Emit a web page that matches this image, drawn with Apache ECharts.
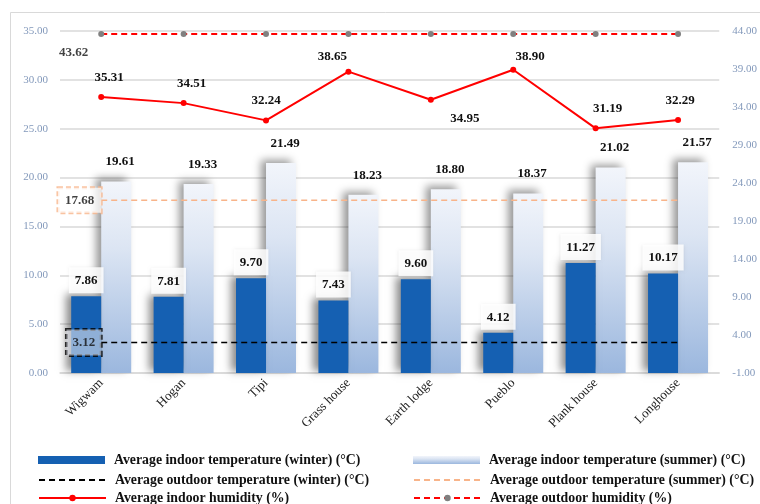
<!DOCTYPE html>
<html><head><meta charset="utf-8">
<script src="https://cdn.jsdelivr.net/npm/echarts@6/dist/echarts.min.js"></script>
<style>html,body{margin:0;padding:0;background:#fff}#c{width:760px;height:504px}</style>
</head><body><div id="c"></div>
<script>
const categories = ['Wigwam','Hogan','Tipi','Grass house','Earth lodge','Pueblo','Plank house','Longhouse'];
const winterIndoor = [7.86, 7.81, 9.70, 7.43, 9.60, 4.12, 11.27, 10.17];
const summerIndoor = [19.61, 19.33, 21.49, 18.23, 18.80, 18.37, 21.02, 21.57];
const winterOutdoor = [3.12, 3.12, 3.12, 3.12, 3.12, 3.12, 3.12, 3.12];
const summerOutdoor = [17.68, 17.68, 17.68, 17.68, 17.68, 17.68, 17.68, 17.68];
const indoorHumidity = [35.31, 34.51, 32.24, 38.65, 34.95, 38.90, 31.19, 32.29];
const outdoorHumidity = [43.62, 43.62, 43.62, 43.62, 43.62, 43.62, 43.62, 43.62];
const leftTicks = {min: 0, max: 35, interval: 5};
const rightTicks = {min: -1, max: 44, interval: 5};

const names = {
  wi: 'Average indoor temperature (winter) (°C)',
  wo: 'Average outdoor temperature (winter) (°C)',
  ih: 'Average indoor humidity (%)',
  si: 'Average indoor temperature (summer) (°C)',
  so: 'Average outdoor temperature (summer) (°C)',
  oh: 'Average outdoor humidity (%)'
};
const serif = '"Liberation Serif", "DejaVu Serif", serif';
const humOffsets = [[8,0],[8,0],[0,0],[-16,4],[34,38],[17,6],[12,0],[2,0]];

const chart = echarts.init(document.getElementById('c'), null, {renderer: 'canvas'});
const numFmt = p => Number(p.value).toFixed(2);

const legendText = {fontFamily: serif, fontWeight: 'bold', fontSize: 13.8, color: '#111', lineHeight: 14, padding: [0,0,0,4]};
function mkLegend(name, left, top, icon) {
  const l = {left: left, top: top, padding: 0, orient: 'horizontal', itemWidth: 67, itemHeight: 8,
    data: [name], textStyle: legendText};
  if (icon) l.icon = icon;
  return l;
}

chart.setOption({
  animation: false,
  backgroundColor: '#fff',
  graphic: [{type: 'rect', shape: {x: 10.5, y: 12.5, width: 760, height: 520}, style: {fill: 'none', stroke: '#d9d9d9', lineWidth: 1}, silent: true}],
  grid: {left: 60, right: 40, top: 31, bottom: 131},
  legend: [
    mkLegend(names.wi, 38, 453, 'rect'), mkLegend(names.wo, 38, 473), mkLegend(names.ih, 38, 491),
    mkLegend(names.si, 413, 453, 'rect'), mkLegend(names.so, 413, 473), mkLegend(names.oh, 413, 491)
  ],
  xAxis: {
    type: 'category', data: categories, boundaryGap: true,
    axisLine: {show: true, lineStyle: {color: '#d9d9d9', width: 1.5}},
    axisTick: {show: false},
    axisLabel: {rotate: 45, fontFamily: serif, fontSize: 13, color: '#222', margin: 8, interval: 0}
  },
  yAxis: [
    {type: 'value', min: leftTicks.min, max: leftTicks.max, interval: leftTicks.interval,
     axisLine: {show: false}, axisTick: {show: false},
     splitLine: {lineStyle: {color: '#d9d9d9', width: 1.5}},
     axisLabel: {formatter: v => v.toFixed(2), fontFamily: serif, fontSize: 11, color: '#8399bb', margin: 12}},
    {type: 'value', min: rightTicks.min, max: rightTicks.max, interval: rightTicks.interval,
     axisLine: {show: false}, axisTick: {show: false}, splitLine: {show: false},
     axisLabel: {formatter: v => v.toFixed(2), fontFamily: serif, fontSize: 11, color: '#8399bb', margin: 13}}
  ],
  series: [
    {name: names.wi, type: 'bar', yAxisIndex: 0, data: winterIndoor, barWidth: 30, barGap: '0%', z: 3,
     itemStyle: {color: '#1560b2', shadowColor: 'rgba(0,0,0,0.45)', shadowBlur: 8, shadowOffsetX: -5, shadowOffsetY: -2},
     label: {show: true, position: 'top', distance: 3, formatter: numFmt, fontFamily: serif, fontWeight: 'bold', fontSize: 13, color: '#111',
       backgroundColor: 'rgba(255,255,255,0.85)', padding: [7, 6, 6, 6], shadowColor: 'rgba(0,0,0,0.1)', shadowBlur: 3}},
    {name: names.si, type: 'bar', yAxisIndex: 0, data: summerIndoor, barWidth: 30, barGap: '0%', z: 2,
     itemStyle: {color: new echarts.graphic.LinearGradient(0, 0, 0, 1, [{offset: 0, color: '#f2f5fb'}, {offset: 0.35, color: '#dce5f3'}, {offset: 1, color: '#9bb7de'}]),
       shadowColor: 'rgba(0,0,0,0.4)', shadowBlur: 8, shadowOffsetX: -5, shadowOffsetY: -3},
     label: {show: true, position: 'top', distance: 13, offset: [4, 0], formatter: numFmt, fontFamily: serif, fontWeight: 'bold', fontSize: 13, color: '#111'}},
    {name: names.wo, type: 'line', yAxisIndex: 0, data: winterOutdoor, symbol: 'none', z: 5,
     itemStyle: {color: 'rgba(0,0,0,0)'},
     lineStyle: {color: '#000', width: 1.5, type: [6, 4]}},
    {name: names.so, type: 'line', yAxisIndex: 0, data: summerOutdoor, symbol: 'none', z: 5,
     itemStyle: {color: 'rgba(0,0,0,0)'},
     lineStyle: {color: '#f8b48a', width: 1.5, type: [6, 4]}},
    {name: names.ih, type: 'line', yAxisIndex: 1, data: indoorHumidity.map((v, i) => ({value: v, label: {offset: humOffsets[i]}})),
     symbol: 'circle', symbolSize: 6, z: 6,
     itemStyle: {color: '#ff0000'}, lineStyle: {color: '#ff0000', width: 2},
     label: {show: true, position: 'top', distance: 10, formatter: numFmt, fontFamily: serif, fontWeight: 'bold', fontSize: 13, color: '#111'}},
    {name: names.oh, type: 'line', yAxisIndex: 1, data: outdoorHumidity, symbol: 'circle', symbolSize: 6, z: 6,
     itemStyle: {color: '#808080'}, lineStyle: {color: '#ff0000', width: 2, type: [6, 4]},
     label: {show: false}},
    {name: 'lbl', type: 'scatter', yAxisIndex: 0, symbolSize: 0, silent: true, z: 7,
     data: [
       {value: [0, winterOutdoor[0]], label: {show: true, position: 'left', distance: 0, formatter: () => winterOutdoor[0].toFixed(2),
         borderColor: '#000', borderWidth: 1.5, borderType: [5, 3], padding: [7, 6, 6, 6], backgroundColor: 'rgba(225,228,238,0.75)'}},
       {value: [0, summerOutdoor[0]], label: {show: true, position: 'left', distance: 0, formatter: () => summerOutdoor[0].toFixed(2),
         borderColor: '#f8b48a', borderWidth: 1.5, borderType: [5, 3], padding: [6, 7, 6, 7], backgroundColor: 'rgba(255,255,255,0.9)'}}
     ],
     label: {fontFamily: serif, fontWeight: 'bold', fontSize: 13, color: '#111'}},
    {name: 'lbl2', type: 'scatter', yAxisIndex: 1, symbolSize: 0, silent: true, z: 7,
     data: [{value: [0, outdoorHumidity[0]], label: {show: true, position: 'left', distance: 0, offset: [-13, 19], formatter: () => outdoorHumidity[0].toFixed(2)}}],
     label: {fontFamily: serif, fontWeight: 'bold', fontSize: 13, color: '#111'}}
  ]
});
</script></body></html>
